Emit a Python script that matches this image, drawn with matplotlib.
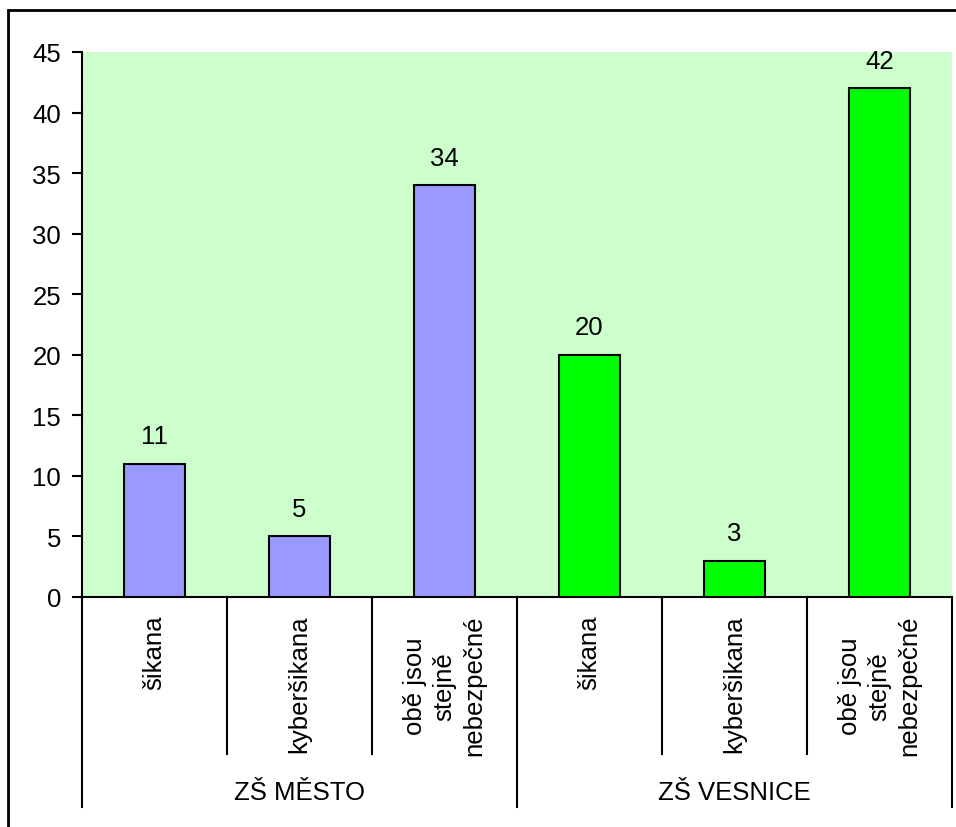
import numpy as np
import matplotlib
matplotlib.use('Agg')
import matplotlib.pyplot as plt
from matplotlib.patches import Rectangle

plt.rcParams['font.family'] = ['Liberation Sans', 'DejaVu Sans']

# data
categories = ['šikana', 'kyberšikana', 'obě jsou\nstejně\nnebezpečné',
              'šikana', 'kyberšikana', 'obě jsou\nstejně\nnebezpečné']
groups = ['ZŠ MĚSTO', 'ZŠ VESNICE']
values = [11, 5, 34, 20, 3, 42]
bar_colors = ['#9999FF'] * 3 + ['#00FF00'] * 3

FS = 18.5
W, H = 956, 828
fig = plt.figure(figsize=(W / 100, H / 100), dpi=100)
# plot area in pixels: x 82..952, y 53..598
ax = fig.add_axes([82 / W, 1 - 598 / H, 870 / W, 545 / H])
ax.set_facecolor('#CCFFCC')

x = np.arange(len(values))
ax.bar(x, values, width=0.414, color=bar_colors, edgecolor='black', linewidth=1.5, zorder=3)

for xi, v in zip(x, values):
    ax.annotate(str(v), (xi, v), xytext=(0, 11), textcoords='offset points',
                ha='center', va='bottom', fontsize=FS)

ax.set_xlim(-0.5, len(values) - 0.5)
ax.set_ylim(0, 45)
ax.set_yticks(np.arange(0, 46, 5))
ax.tick_params(axis='y', direction='out', length=7, width=1.5, pad=8, labelsize=FS)
ax.set_xticks([])

for s in ['top', 'right']:
    ax.spines[s].set_visible(False)
ax.spines['left'].set_linewidth(1.5)
ax.spines['bottom'].set_linewidth(1.5)

# multi-level category axis
tr = ax.get_xaxis_transform()
px = 1 / 545
for i, lab in enumerate(categories):
    ax.text(i, -18 * px, lab, transform=tr, rotation=90, ha='center', va='top',
            multialignment='center', fontsize=FS, linespacing=1.3)
for b in [0.5, 1.5, 3.5, 4.5]:
    ax.plot([b, b], [0, -157 * px], transform=tr, color='black', lw=1.5, clip_on=False)
for b in [-0.5, 2.5, 5.5]:
    ax.plot([b, b], [0, -210 * px], transform=tr, color='black', lw=1.5, clip_on=False)
for g, lab in enumerate(groups):
    ax.text(1 + 3 * g, -195 * px, lab, transform=tr, ha='center', va='center', fontsize=FS)

# outer frame of the chart object
fig.patches.append(Rectangle((8 / W, -0.1), 1.2, 1.1 - 11 / H, transform=fig.transFigure,
                             fill=False, edgecolor='black', linewidth=2))

fig.savefig('out.png', dpi=100)
